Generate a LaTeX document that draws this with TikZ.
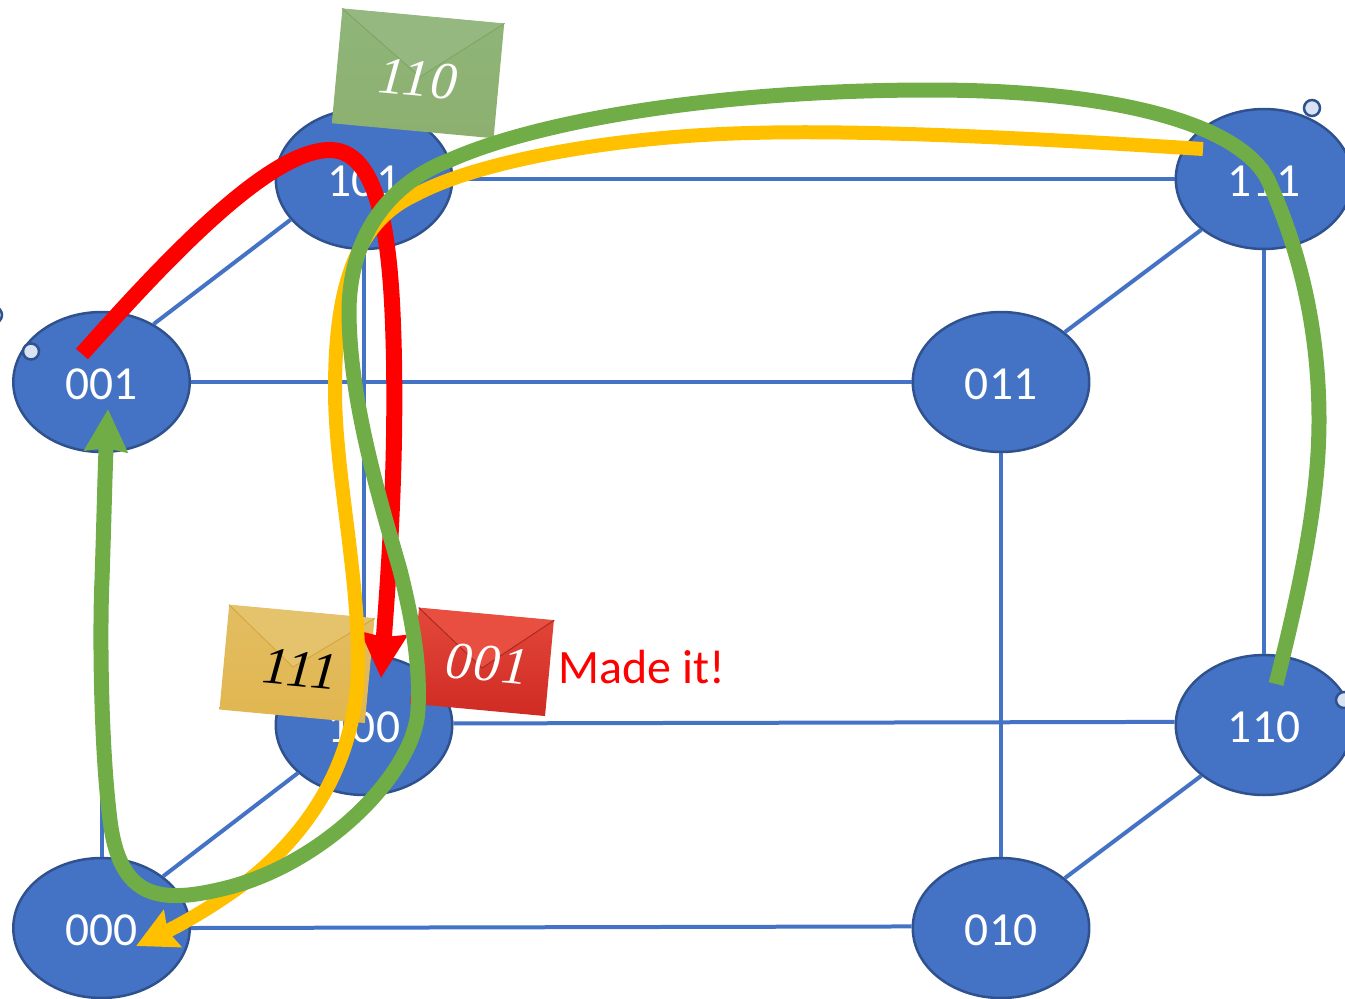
\documentclass[tikz,border=0pt]{standalone}
\usepackage{fontspec}
\setmainfont{Carlito}
\newfontfamily\mailfont[LetterSpace=3]{Liberation Serif}
\usetikzlibrary{shapes.geometric,arrows.meta}
\definecolor{vertexblue}{HTML}{4472C4}
\definecolor{vertexline}{HTML}{2F528F}
\definecolor{handlefill}{HTML}{DAE3F3}
\definecolor{pathred}{HTML}{FF0000}
\definecolor{pathyellow}{HTML}{FFC000}
\definecolor{pathgreen}{HTML}{70AD47}
\definecolor{greentop}{HTML}{8FB57A}
\definecolor{greenbot}{HTML}{8DB06F}
\definecolor{greenflap}{HTML}{95B880}
\definecolor{greenfold}{HTML}{7FA763}
\definecolor{yellowtop}{HTML}{E3BD62}
\definecolor{yellowbot}{HTML}{E0B64F}
\definecolor{yellowflap}{HTML}{E5C26C}
\definecolor{yellowfold}{HTML}{D5A940}
\definecolor{redtop}{HTML}{E4483A}
\definecolor{redbot}{HTML}{CF2B24}
\definecolor{redflap}{HTML}{E94F40}
\definecolor{redfold}{HTML}{A82A22}
\begin{document}
\begin{tikzpicture}[x=0.02cm,y=-0.02cm]

    \tikzset{vertexstyle/.style={draw=vertexline,fill=vertexblue,shape=ellipse,line width=0.05cm,
            minimum width=3.53cm,minimum height=2.8cm,inner sep=0pt,text=white,
            text height=0.7cm,text depth=0pt,font=\fontsize{27}{27}\selectfont}}
    \tikzset{edgestyle/.style={draw=vertexblue,line width=0.08cm}}
    \tikzset{handlestyle/.style={draw=vertexline,fill=handlefill,shape=circle,line width=0.05cm,
            minimum size=0.32cm,inner sep=0pt}}
    \tikzset{mailstyle/.style={shape=rectangle,inner sep=0pt,rotate=-5.3}}
    \tikzset{mailtext/.style={rotate=-5.3,inner sep=0pt,font=\mailfont\itshape\fontsize{30}{30}\selectfont}}

    \path[use as bounding box,clip] (0,0) rectangle (1345,998);

    \node[vertexstyle] (v001) at ( 101.5, 382) {001};
    \node[vertexstyle] (v011) at (1001, 382) {011};
    \node[vertexstyle] (v000) at ( 101.5, 928) {000};
    \node[vertexstyle] (v010) at (1001, 928) {010};
    \node[vertexstyle] (v101) at ( 364, 179) {101};
    \node[vertexstyle] (v111) at (1264, 179) {111};
    \node[vertexstyle] (v100) at ( 364, 725) {100};
    \node[vertexstyle] (v110) at (1264, 725) {110};

    \node[handlestyle] (h1) at (  31, 351.5) {};
    \node[handlestyle] (h2) at (  -6, 315) {};
    \node[handlestyle] (h3) at (1312, 108) {};
    \node[handlestyle] (h4) at (1344, 700) {};

    \begin{scope}[every path/.style={edgestyle}]
        \draw (v001) -- (v011);
        \draw (v000.0.6) -- (v010.179.4);
        \draw (v101) -- (v111);
        \draw (v100.1.3) -- (v110.178.7);

        \draw (v001) -- (v000);
        \draw (v101) -- (v100);
        \draw (v011) -- (v010);
        \draw (v111) -- (v110);

        \draw (v001.48) -- (v101.209);
        \draw (v000.40) -- (v100.216);
        \draw (v011.38) -- (v111.219);
        \draw (v010.38) -- (v110.219);
    \end{scope}

    % envelopes
    \node[mailstyle,top color=greentop,bottom color=greenbot,minimum width=3.25cm,minimum height=2.3cm] (mgreen) at (418,73.5) {};
    \draw[greenfold,fill=greenflap,line width=0.02cm] (mgreen.north west) -- (420,77) -- (mgreen.north east);
    \node[mailtext,text=white] (tgreen) at (418,79) {110};

    \node[mailstyle,top color=yellowtop,bottom color=yellowbot,minimum width=2.92cm,minimum height=2.1cm] (myellow) at (297,664) {};
    \draw[yellowfold,fill=yellowflap,line width=0.02cm] (myellow.north west) -- (293,667) -- (myellow.north east);
    \node[mailtext] (tyellow) at (300,669) {111};

    \node[mailstyle,top color=redtop,bottom color=redbot,minimum width=2.71cm,minimum height=1.92cm] (mred) at (482,662) {};
    \draw[redfold,fill=redflap,line width=0.02cm] (mred.north west) -- (482,668) -- (mred.north east);
    \node[mailtext,text=white] (tred) at (487,664) {001};

    \node[text=pathred,inner sep=0pt,anchor=west,font=\fontsize{27.3}{27}\selectfont] (madeit) at (558,667) {Made it!};

    \coordinate (redstart) at (82,354);
    \coordinate (redend) at (381,678);
    \coordinate (yellowstart) at (1203,149);
    \coordinate (yellowend) at (136,946);
    \coordinate (greenstart) at (1276,684);
    \coordinate (greenend) at (108,409);

    \draw[pathred,line width=0.32cm,-{Stealth[length=0.88cm,width=0.9cm,inset=0.06cm]}] (redstart)
        .. controls (170,255) and (270,150) .. (330,150)
        .. controls (385,150) and (392,260) .. (394,360)
        .. controls (396,480) and (388,580) .. (redend);

    \draw[pathyellow,line width=0.28cm,-{Stealth[length=0.8cm,width=0.8cm,inset=0.1cm]}] (yellowstart)
        .. controls (1000,136) and (850,130) .. (750,133)
        .. controls (620,136) and (480,160) .. (415,195)
        .. controls (350,225) and (335,300) .. (335,390)
        .. controls (335,470) and (358,570) .. (358,660)
        .. controls (358,750) and (320,820) .. (255,875)
        .. controls (220,903) and (180,925) .. (yellowend);

    \draw[pathgreen,line width=0.3cm,-{Stealth[length=0.84cm,width=0.84cm,inset=0.06cm]}] (greenstart)
        .. controls (1305,570) and (1319,490) .. (1319,420)
        .. controls (1319,330) and (1300,250) .. (1268,180)
        .. controls (1240,125) and (1120,90) .. (930,90)
        .. controls (720,90) and (540,120) .. (450,160)
        .. controls (385,185) and (350,240) .. (349,310)
        .. controls (349,400) and (380,500) .. (400,570)
        .. controls (415,630) and (420,670) .. (418,710)
        .. controls (415,770) and (330,860) .. (230,887)
        .. controls (160,905) and (120,900) .. (110,820)
        .. controls (100,740) and (100,620) .. (102,580)
        .. controls (104,520) and (105,470) .. (greenend);

\end{tikzpicture}
\end{document}
